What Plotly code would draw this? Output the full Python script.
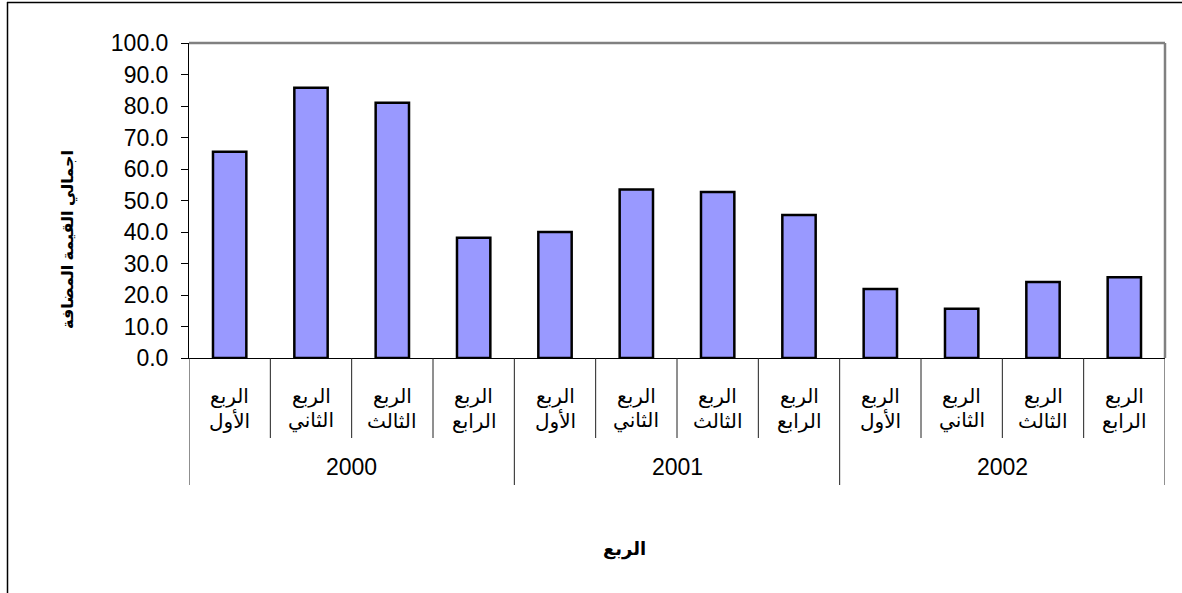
import plotly.graph_objects as go

# ---- data ----
years = ["2000", "2001", "2002"]
quarter_word = "الربع"
quarter_names = ["الأول", "الثاني", "الثالث", "الرابع"]
values = [65.5, 85.8, 81.0, 38.2, 40.0, 53.5, 52.7, 45.4, 21.9, 15.6, 24.1, 25.6]
y_title = "اجمالي القيمة المضافة"
x_title = "الربع"

W, H = 1182, 593
PL, PR, PT, PB = 189, 1165, 43, 358


def px(x):
    return (x - PL) / (PR - PL)


def py(y):
    return (PB - y) / (PB - PT)


FONT = "Liberation Sans, Arial, DejaVu Sans, sans-serif"
n = len(values)
xs = list(range(n))
nq = len(quarter_names)

fig = go.Figure()
fig.add_trace(go.Bar(
    x=xs, y=values, width=0.41,
    marker=dict(color="#9999FF", line=dict(color="black", width=2.5)),
    hoverinfo="y",
))

shapes = []
annotations = []

# plot-area border (grey top & right)
shapes.append(dict(type="line", xref="paper", yref="paper", x0=0, x1=1, y0=1, y1=1,
                   line=dict(color="#808080", width=2.5)))
shapes.append(dict(type="line", xref="paper", yref="paper", x0=1, x1=1, y0=0, y1=1,
                   line=dict(color="#808080", width=2.5)))
# outer chart border (left & top visible)
shapes.append(dict(type="line", xref="paper", yref="paper", x0=px(7.5), x1=px(7.5), y0=py(2), y1=py(600),
                   line=dict(color="black", width=1.5)))
shapes.append(dict(type="line", xref="paper", yref="paper", x0=px(7), x1=px(1190), y0=py(2.5), y1=py(2.5),
                   line=dict(color="black", width=1.5)))

# category separators
for i in range(n + 1):
    xb = i - 0.5
    bottom = py(485) if i % nq == 0 else py(438)
    shapes.append(dict(type="line", xref="x", yref="paper", x0=xb, x1=xb, y0=0, y1=bottom,
                       line=dict(color="#202020", width=1)))

# quarter labels
for i in range(n):
    q = quarter_names[i % nq]
    annotations.append(dict(x=xs[i], y=py(396), xref="x", yref="paper", text=quarter_word,
                            showarrow=False, yanchor="middle", xanchor="center",
                            font=dict(family=FONT, size=20, color="black")))
    annotations.append(dict(x=xs[i], y=py(421), xref="x", yref="paper", text=q,
                            showarrow=False, yanchor="middle", xanchor="center",
                            font=dict(family=FONT, size=20, color="black")))

# year labels
for g, yr in enumerate(years):
    center = (xs[g * nq] + xs[g * nq + nq - 1]) / 2
    annotations.append(dict(x=center, y=py(467), xref="x", yref="paper", text=yr,
                            showarrow=False, yanchor="middle", xanchor="center",
                            font=dict(family=FONT, size=23, color="black")))

# axis titles
annotations.append(dict(x=px(68), y=py(240), xref="paper", yref="paper", text="<b>" + y_title + "</b>",
                        textangle=-90, showarrow=False, xanchor="center", yanchor="middle",
                        font=dict(family=FONT, size=16, color="black")))
annotations.append(dict(x=px(624), y=py(549), xref="paper", yref="paper", text="<b>" + x_title + "</b>",
                        showarrow=False, xanchor="center", yanchor="middle",
                        font=dict(family=FONT, size=18, color="black")))

fig.update_layout(
    width=W, height=H,
    margin=dict(l=PL, r=W - PR, t=PT, b=H - PB, pad=0),
    paper_bgcolor="white", plot_bgcolor="white",
    showlegend=False,
    shapes=shapes,
    annotations=annotations,
    font=dict(family=FONT, color="black"),
    xaxis=dict(range=[-0.5, n - 0.5], showticklabels=False, ticks="", showgrid=False,
               zeroline=False, showline=True, linecolor="black", linewidth=1),
    yaxis=dict(range=[0, 100], dtick=10, tickformat=".1f", ticks="outside", ticklen=7,
               tickcolor="black", tickwidth=1, showgrid=False, zeroline=False,
               showline=True, linecolor="black", linewidth=1,
               tickfont=dict(family=FONT, size=23, color="black"), ticklabelstandoff=8),
)

fig.write_html("out.html", config={"displayModeBar": False},
               post_script="document.body.style.margin='0px';document.body.style.overflow='hidden';")
